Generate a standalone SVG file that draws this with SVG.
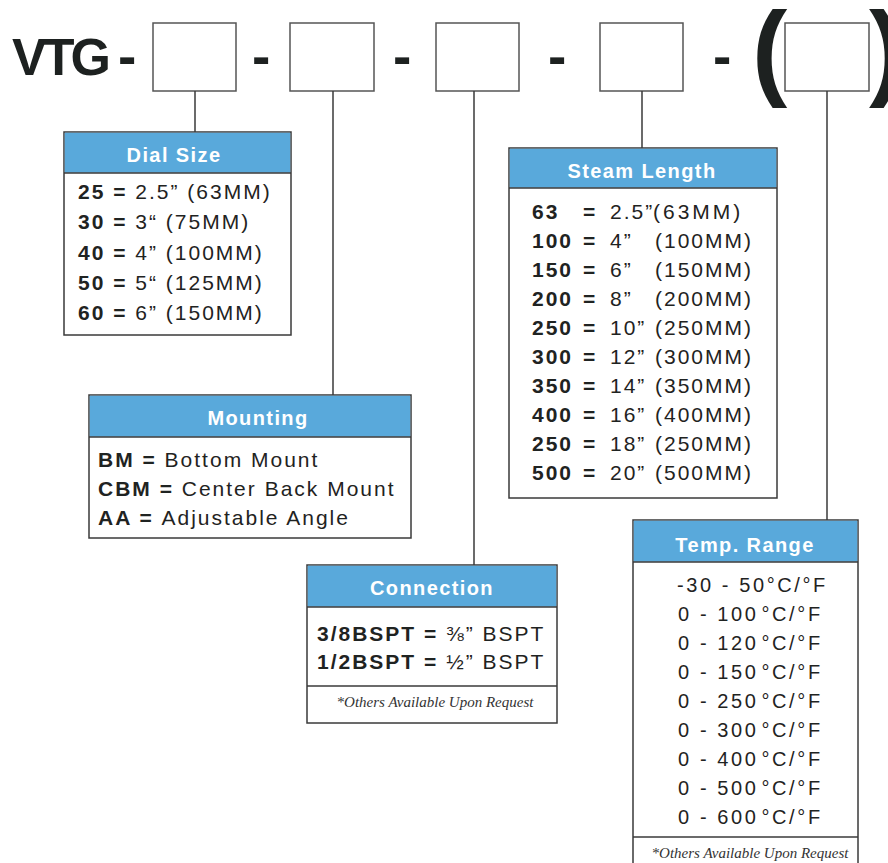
<svg xmlns="http://www.w3.org/2000/svg" width="888" height="863" viewBox="0 0 888 863">
<style>
.bx{fill:#fff;stroke:#3a3a3a;stroke-width:1.5}
.hd{fill:#59a9db}
.ht{font-family:"Liberation Sans",Arial,sans-serif;font-weight:bold;font-size:20px;fill:#fff;text-anchor:middle;letter-spacing:1.4px}
.t{font-family:"Liberation Sans",Arial,sans-serif;font-size:21px;fill:#1f2322;letter-spacing:2px}
.tr{font-size:20px;letter-spacing:2.6px}
.b{font-weight:bold}
.fn{font-family:"Liberation Serif","Times New Roman",serif;font-style:italic;font-size:15px;fill:#333;text-anchor:middle}
.ln{stroke:#3a3a3a;stroke-width:1.5;fill:none}
.top{fill:#fff;stroke:#555;stroke-width:1.5}
.big{font-family:"Liberation Sans",Arial,sans-serif;font-weight:bold;fill:#1d2120}
</style>
<rect width="888" height="863" fill="#fff"/>
<g id="title">
<text class="big" x="12" y="75" font-size="52" letter-spacing="-4">VTG</text>
<text class="big" x="118" y="75" font-size="55">-</text>
<text class="big" x="252" y="75" font-size="55">-</text>
<text class="big" x="393" y="75" font-size="55">-</text>
<text class="big" x="548" y="75" font-size="55">-</text>
<text class="big" x="713" y="75" font-size="55">-</text>
<text class="big" x="752" y="86" font-size="106">(</text>
<text class="big" x="869" y="86" font-size="106">)</text>
</g>
<g id="code-boxes">
<rect class="top" x="153" y="23" width="83" height="68"/>
<rect class="top" x="290" y="23" width="84" height="68"/>
<rect class="top" x="436" y="23" width="83" height="68"/>
<rect class="top" x="600" y="23" width="83" height="68"/>
<rect class="top" x="785" y="23" width="84" height="68"/>
</g>
<g id="connectors">
<line class="ln" x1="195" y1="91" x2="195" y2="132"/>
<line class="ln" x1="333" y1="91" x2="333" y2="395"/>
<line class="ln" x1="474" y1="91" x2="474" y2="565"/>
<line class="ln" x1="642" y1="91" x2="642" y2="148"/>
<line class="ln" x1="827" y1="91" x2="827" y2="520"/>
</g>
<g id="dial-size">
<rect class="bx" x="64" y="132" width="227" height="203"/>
<rect class="hd" x="64.75" y="132.75" width="225.5" height="40"/>
<line class="ln" x1="64" y1="173" x2="291" y2="173"/>
<text class="ht" x="174" y="162">Dial Size</text>
<text class="t" x="78" y="199"><tspan class="b">25 = </tspan>2.5” (63MM)</text>
<text class="t" x="78" y="229"><tspan class="b">30 = </tspan>3“ (75MM)</text>
<text class="t" x="78" y="260"><tspan class="b">40 = </tspan>4” (100MM)</text>
<text class="t" x="78" y="290"><tspan class="b">50 = </tspan>5“ (125MM)</text>
<text class="t" x="78" y="320"><tspan class="b">60 = </tspan>6” (150MM)</text>
</g>
<g id="mounting">
<rect class="bx" x="89" y="395" width="322" height="143"/>
<rect class="hd" x="89.75" y="395.75" width="320.5" height="41"/>
<line class="ln" x1="89" y1="437" x2="411" y2="437"/>
<text class="ht" x="258" y="425">Mounting</text>
<text class="t" x="98" y="467" letter-spacing="2.2"><tspan class="b">BM = </tspan>Bottom Mount</text>
<text class="t" x="98" y="496" letter-spacing="2.2"><tspan class="b">CBM = </tspan>Center Back Mount</text>
<text class="t" x="98" y="525" letter-spacing="2.2"><tspan class="b">AA = </tspan>Adjustable Angle</text>
</g>
<g id="connection">
<rect class="bx" x="307" y="565" width="250" height="158"/>
<rect class="hd" x="307.75" y="565.75" width="248.5" height="41"/>
<line class="ln" x1="307" y1="607" x2="557" y2="607"/>
<line class="ln" x1="307" y1="686" x2="557" y2="686"/>
<text class="ht" x="432" y="595">Connection</text>
<text class="t" x="317" y="641" font-size="22" letter-spacing="1.5"><tspan class="b">3/8BSPT = </tspan>⅜” BSPT</text>
<text class="t" x="317" y="669" font-size="22" letter-spacing="1.5"><tspan class="b">1/2BSPT = </tspan>½” BSPT</text>
<text class="fn" x="435" y="707">*Others Available Upon Request</text>
</g>
<g id="steam-length">
<rect class="bx" x="509" y="148" width="268" height="350"/>
<rect class="hd" x="509.75" y="148.75" width="266.5" height="39"/>
<line class="ln" x1="509" y1="188" x2="777" y2="188"/>
<text class="ht" x="642" y="178">Steam Length</text>
<text class="t" y="219"><tspan class="b" x="532">63</tspan><tspan class="b" x="583">=</tspan><tspan x="610">2.5”</tspan><tspan x="653" letter-spacing="3">(63MM)</tspan></text>
<text class="t" y="248"><tspan class="b" x="532">100</tspan><tspan class="b" x="583">=</tspan><tspan x="610">4”</tspan><tspan x="655">(100MM)</tspan></text>
<text class="t" y="277"><tspan class="b" x="532">150</tspan><tspan class="b" x="583">=</tspan><tspan x="610">6”</tspan><tspan x="655">(150MM)</tspan></text>
<text class="t" y="306"><tspan class="b" x="532">200</tspan><tspan class="b" x="583">=</tspan><tspan x="610">8”</tspan><tspan x="655">(200MM)</tspan></text>
<text class="t" y="335"><tspan class="b" x="532">250</tspan><tspan class="b" x="583">=</tspan><tspan x="610">10”</tspan><tspan x="655">(250MM)</tspan></text>
<text class="t" y="364"><tspan class="b" x="532">300</tspan><tspan class="b" x="583">=</tspan><tspan x="610">12”</tspan><tspan x="655">(300MM)</tspan></text>
<text class="t" y="393"><tspan class="b" x="532">350</tspan><tspan class="b" x="583">=</tspan><tspan x="610">14”</tspan><tspan x="655">(350MM)</tspan></text>
<text class="t" y="422"><tspan class="b" x="532">400</tspan><tspan class="b" x="583">=</tspan><tspan x="610">16”</tspan><tspan x="655">(400MM)</tspan></text>
<text class="t" y="451"><tspan class="b" x="532">250</tspan><tspan class="b" x="583">=</tspan><tspan x="610">18”</tspan><tspan x="655">(250MM)</tspan></text>
<text class="t" y="480"><tspan class="b" x="532">500</tspan><tspan class="b" x="583">=</tspan><tspan x="610">20”</tspan><tspan x="655">(500MM)</tspan></text>
</g>
<g id="temp-range">
<rect class="bx" x="633" y="520" width="225" height="360"/>
<rect class="hd" x="633.75" y="520.75" width="223.5" height="41"/>
<line class="ln" x1="633" y1="562" x2="858" y2="562"/>
<line class="ln" x1="633" y1="837" x2="858" y2="837"/>
<text class="ht" x="745" y="552">Temp. Range</text>
<text class="t tr" x="677" y="592" letter-spacing="2.2">-30 - 50°C/°F</text>
<text class="t tr" x="678" y="621">0 - 100<tspan dx="3">°</tspan>C/°F</text>
<text class="t tr" x="678" y="650">0 - 120<tspan dx="3">°</tspan>C/°F</text>
<text class="t tr" x="678" y="679">0 - 150<tspan dx="3">°</tspan>C/°F</text>
<text class="t tr" x="678" y="708">0 - 250<tspan dx="3">°</tspan>C/°F</text>
<text class="t tr" x="678" y="737">0 - 300<tspan dx="3">°</tspan>C/°F</text>
<text class="t tr" x="678" y="766">0 - 400<tspan dx="3">°</tspan>C/°F</text>
<text class="t tr" x="678" y="795">0 - 500<tspan dx="3">°</tspan>C/°F</text>
<text class="t tr" x="678" y="824">0 - 600<tspan dx="3">°</tspan>C/°F</text>
<text class="fn" x="750" y="858">*Others Available Upon Request</text>
</g>
</svg>
